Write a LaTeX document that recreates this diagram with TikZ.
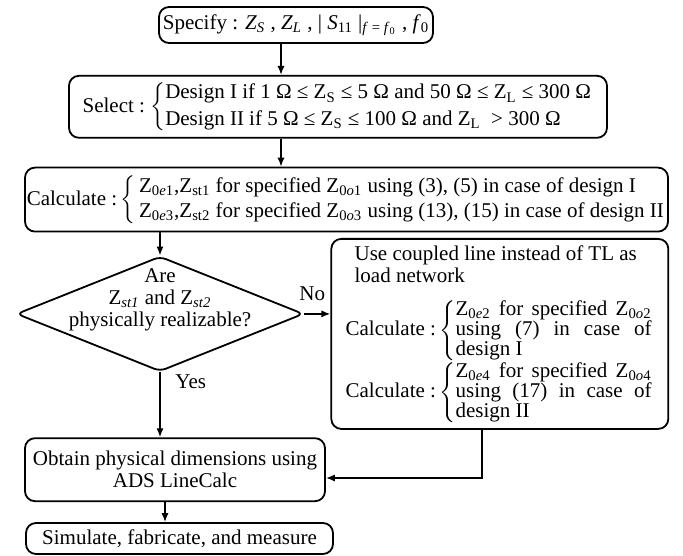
\documentclass[tikz,border=0pt]{standalone}
\usepackage{fontspec}
\setmainfont{Liberation Serif}
\usetikzlibrary{arrows.meta,positioning,shapes.geometric}

% impedance symbols
\newcommand{\Zr}[1]{Z\textsubscript{#1}}
\newcommand{\Zi}[1]{\textit{Z}\textsubscript{\textit{#1}}}
% brace with stacked lines
\newcommand{\casebox}[2]{$\left\{\def\arraystretch{#1}\begin{tabular}{@{}l@{}}#2\end{tabular}\right.$}
\newcommand{\sidecase}[1]{$\left\{\parbox[c]{98pt}{\fontsize{10.5}{10}\selectfont #1}\right.$}

\begin{document}
\begin{tikzpicture}[
    font=\fontsize{10.5}{11}\selectfont,
    proc/.style={
        rectangle,
        draw=black,
        line width=0.9pt,
        rounded corners=5pt,
        inner sep=0.5pt,
        align=center
    },
    decision/.style={
        diamond,
        draw=black,
        line width=0.9pt,
        rounded corners=3pt,
        aspect=2.5,
        inner sep=0pt,
        minimum width=143.5pt,
        minimum height=57.5pt
    },
    flow/.style={-{Latex[length=4.5pt,width=3.6pt]}, line width=0.8pt}
]
\useasboundingbox (0,0) rectangle (341.5pt,-277.5pt);

\node[proc, minimum width=137pt, minimum height=18pt] (spec) at (148pt,-12.5pt)
    {Specify : \Zi{S} , \Zi{L} , | \textit{S}\textsubscript{11} |\textsubscript{\textit{f} = \textit{f}\textsubscript{0}} , \textit{f}\textsubscript{0}};
\node[proc, below=15.5pt of spec, xshift=21pt, minimum width=269pt, minimum height=31pt] (sel)
    {Select :\ \casebox{1.2}{Design I if 1 Ω ≤\ \Zr{S} ≤ 5 Ω and 50 Ω ≤\ \Zr{L} ≤ 300 Ω\\
     Design II if 5 Ω ≤\ \Zr{S} ≤ 100 Ω and \Zr{L}\ \ > 300 Ω}};
\node[proc, below=14pt of sel, xshift=4.25pt, minimum width=321.5pt, minimum height=32pt] (calc)
    {Calculate :\,\casebox{1.15}{\,\Zr{0\textit{e}1},\Zr{st1} for specified \Zr{0\textit{o}1} using (3), (5) in case of design I\\
     \,\Zr{0\textit{e}3},\Zr{st2} for specified \Zr{0\textit{o}3} using (13), (15) in case of design II}};
\node[decision, below=11.5pt of calc, xshift=-93.25pt,
    label={[align=center, yshift=7pt]center:Are\\\Zr{\textit{st1}} and \Zr{\textit{st2}}\\physically realizable?}] (dec) {};
\node[proc, right=13pt of dec, yshift=-10pt, minimum width=168.5pt, minimum height=95pt, align=left] (alt)
    {\hspace*{4.5pt}Use coupled line instead of TL as\\
     \hspace*{4.5pt}load network\\[8pt]
     Calculate :\,\sidecase{\Zr{0\textit{e}2} for specified \Zr{0\textit{o}2}\linebreak using (7) in case of\linebreak design I}\\[0pt]
     Calculate :\,\sidecase{\Zr{0\textit{e}4} for specified \Zr{0\textit{o}4}\linebreak using (17) in case of\linebreak design II}};
\node[proc, below=32.5pt of dec, xshift=7.5pt, minimum width=150pt, minimum height=31.5pt] (obtain)
    {Obtain physical dimensions using\\ADS LineCalc};
\node[proc, below=10pt of obtain, xshift=2.25pt, minimum width=153.5pt, minimum height=15.5pt] (sim)
    {Simulate, fabricate, and measure};

\coordinate (axis) at (140.5pt,0);
\coordinate (turn) at (241pt,-239pt);
\coordinate (drop) at (82.5pt,0);

\draw[flow] (spec.south -| axis) -- (sel.north -| axis);
\draw[flow] (sel.south -| axis) -- (calc.north -| axis);
\draw[flow] (calc.south -| dec.north) -- (dec.north);
\draw[flow] (dec.east) -- node[pos=0.3, above, yshift=3pt] {No} (dec.east -| alt.west);
\draw[flow] (dec.south) -- node[pos=0.15, anchor=west, xshift=4pt] {Yes} (dec.south |- obtain.north);
\draw[flow] (alt.south -| turn) |- (obtain.east |- turn);
\draw[flow] (obtain.south -| drop) -- (sim.north -| drop);

\end{tikzpicture}
\end{document}
